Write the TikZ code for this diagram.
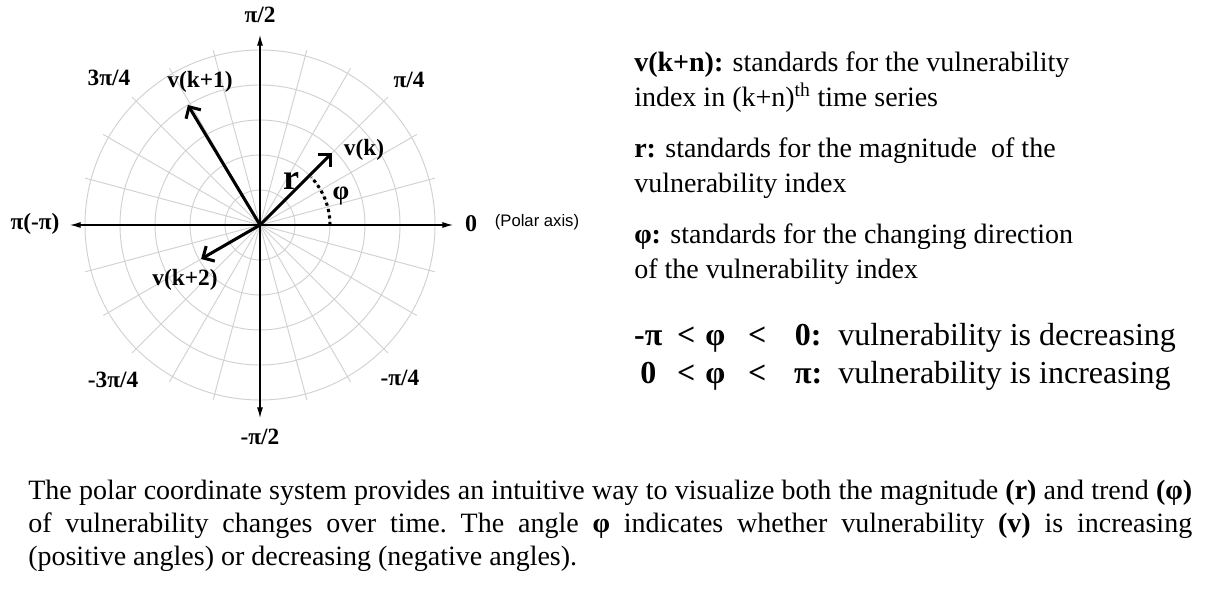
\documentclass[tikz,border=0pt]{standalone}
\usepackage{fontspec}
\setmainfont{Liberation Serif}
\setsansfont{Liberation Sans}
\usetikzlibrary{arrows.meta, positioning, calc}

\newcommand{\cellbox}[2]{\makebox[#1][c]{#2}}

\begin{document}
\begin{tikzpicture}[x=0.75pt, y=0.75pt,
    polargrid/.style={draw=gray!36, line width=0.7pt},
    axis/.style={draw=black, line width=0.8pt, {Latex[length=8pt,width=4.5pt]}-{Latex[length=8pt,width=4.5pt]}},
    vec/.style={draw=black, line width=2.3pt, -{Straight Barb[length=6.5pt,width=13pt]}},
    lbl/.style={font=\fontsize{17.5}{20}\selectfont\bfseries, inner sep=0pt},
    info/.style={font=\fontsize{21}{26.25}\selectfont, text width=345pt, align=flush left, anchor=west, inner sep=0pt},
    rulerow/.style={font=\fontsize{24}{28}\selectfont, anchor=west, inner sep=0pt}]

    \fill[white] (0,0) rectangle (1207,589);
    \useasboundingbox (0,0) rectangle (1207,589);

    %% POLAR GRID
    \coordinate (C) at (260,364);
    \foreach \rr in {35,70,105,140,175}
        \draw[polargrid] (C) circle[radius=\rr];
    \foreach \a in {15,30,...,345}
        \draw[polargrid] (C) -- +(\a:181);

    %% AXES
    \coordinate (east) at ($(C)+(0:193)$);
    \coordinate (west) at ($(C)+(180:190)$);
    \coordinate (north) at ($(C)+(90:190)$);
    \coordinate (south) at ($(C)+(270:193)$);
    \draw[axis] (west) -- (east);
    \draw[axis] (south) -- (north);

    % angle labels
    \node[lbl] (half) at (260,574) {π/2};
    \node[lbl] (mhalf) at (260,152) {-π/2};
    \node[lbl] (pi) at (35,365) {π(-π)};
    \node[lbl, font=\fontsize{18}{20}\selectfont\bfseries] (zero) at (471,365) {0};
    \node[inner sep=0pt, font=\sffamily\fontsize{12.5}{14}\selectfont] (polar) at (537,367) {(Polar axis)};
    \node[lbl] (tq) at (109,511) {3π/4};
    \node[lbl] (q) at (409,509) {π/4};
    \node[lbl] (mtq) at (113,209) {-3π/4};
    \node[lbl] (mq) at (400,211) {-π/4};

    %% VECTORS
    \coordinate (vk) at ($(C)+(45:102)$);
    \coordinate (vk1) at ($(C)+(121:140)$);
    \coordinate (vk2) at ($(C)+(210:68)$);
    \draw[vec] (C) -- (vk);
    \draw[vec] (C) -- (vk1);
    \draw[vec] (C) -- (vk2);
    \draw[line width=2.3pt, dash pattern=on 2.3pt off 2.6pt] ($(C)+(0:70)$) arc[start angle=0, end angle=43, radius=70];

    \node[lbl] (lvk) at (364,439) {v(k)};
    \node[lbl] (lvk1) at (200,507) {v(k+1)};
    \node[lbl] (lvk2) at (185,309) {v(k+2)};
    \node[lbl, font=\fontsize{27}{30}\selectfont\bfseries] (r) at (291,408) {r};
    \node[lbl, font=\fontsize{20}{22}\selectfont\bfseries] (phi) at (341,393) {φ};

    %% LEGEND
    \node[info] (def1) at (634,506.5) {\textbf{v(k+n):} standards for the vulnerability\\index in (k+n)\textsuperscript{th} time series};
    \node[info] (def2) at (634,420.5) {\textbf{r:} standards for the magnitude\ \ of the\\vulnerability index};
    \node[info] (def3) at (634,334.5) {\textbf{φ:} standards for the changing direction\\of the vulnerability index};

    \node[rulerow] (dec) at (630,251.5) {\bfseries\cellbox{27pt}{-π}\cellbox{30pt}{<}\cellbox{13.5pt}{φ}\cellbox{49.5pt}{<}\cellbox{27pt}{0:}\hspace{9pt}\mdseries vulnerability is decreasing};
    \node[rulerow] (inc) at (630,213.5) {\bfseries\cellbox{27pt}{0}\cellbox{30pt}{<}\cellbox{13.5pt}{φ}\cellbox{49.5pt}{<}\cellbox{27pt}{π:}\hspace{9pt}\mdseries vulnerability is increasing};

    %% CAPTION
    \node[anchor=north west, inner sep=0pt, text width=873pt, align=justify,
          font=\fontsize{21}{24.75}\selectfont\frenchspacing] (caption) at (28,109)
        {The polar coordinate system provides an intuitive way to visualize both the magnitude \textbf{(r)} and trend \textbf{(φ)}\linebreak
         of vulnerability changes over time. The angle \textbf{φ} indicates whether vulnerability \textbf{(v)} is increasing\linebreak
         (positive angles) or decreasing (negative angles).};
\end{tikzpicture}
\end{document}
